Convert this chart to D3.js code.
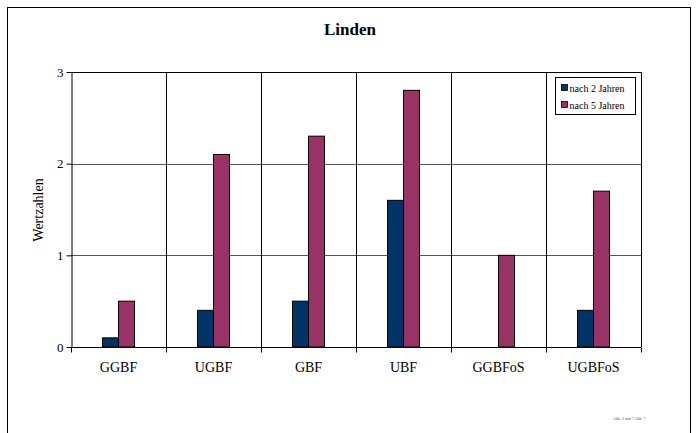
<!DOCTYPE html>
<html>
<head>
<meta charset="utf-8">
<script src="https://cdn.jsdelivr.net/npm/d3@7"></script>
<style>
  body { margin: 0; background: #fff; }
  svg text { font-family: "Liberation Serif", "Times New Roman", serif; }
</style>
</head>
<body>
<div id="chart"></div>
<script>
// data
const categories = ["GGBF", "UGBF", "GBF", "UBF", "GGBFoS", "UGBFoS"];
const seriesNames = ["nach 2 Jahren", "nach 5 Jahren"];
const after2 = [0.1, 0.4, 0.5, 1.6, 0, 0.4];
const after5 = [0.5, 2.1, 2.3, 2.8, 1.0, 1.7];
const yTicks = [0, 1, 2, 3];
const colors = ["#003366", "#993366"];

const W = 697, H = 433;
const margin = { top: 72, right: 56, bottom: 86, left: 71 },
      width = W - margin.left - margin.right,
      height = H - margin.top - margin.bottom;

const svg = d3.select("#chart").append("svg")
    .attr("width", W)
    .attr("height", H);

// outer frame
svg.append("rect")
    .attr("x", 7.5).attr("y", 7.5)
    .attr("width", 683).attr("height", 440)
    .attr("fill", "none").attr("stroke", "#000").attr("stroke-width", 1);

svg.append("text")
    .attr("x", 350).attr("y", 35)
    .attr("text-anchor", "middle")
    .style("font-size", "17px").style("font-weight", "bold")
    .text("Linden");

const g = svg.append("g")
    .attr("transform", `translate(${margin.left}, ${margin.top})`);

const x = d3.scaleBand()
    .domain(categories)
    .range([0, width]);

const xs = d3.scaleBand()
    .domain(seriesNames)
    .range([x.bandwidth() / 2 - 16, x.bandwidth() / 2 + 16]);

const y = d3.scaleLinear()
    .domain([0, 3])
    .range([height, 0]);

// gridlines
g.selectAll(".grid")
    .data(yTicks.filter(d => d > 0 && d < 3))
    .join("line")
    .attr("x1", 0).attr("x2", width)
    .attr("y1", d => Math.round(y(d)) + 0.5).attr("y2", d => Math.round(y(d)) + 0.5)
    .attr("stroke", "#555").attr("stroke-width", 1);

// category separators
g.selectAll(".sep")
    .data(categories.slice(1))
    .join("line")
    .attr("x1", d => Math.round(x(d)) + 0.5).attr("x2", d => Math.round(x(d)) + 0.5)
    .attr("y1", 0).attr("y2", height)
    .attr("stroke", "#000");

// plot frame (top and right)
g.append("path")
    .attr("d", `M0.5,0.5H${width + 0.5}V${height}`)
    .attr("fill", "none").attr("stroke", "#000");

// bars
const rows = categories.map((c, i) => ({ cat: c, vals: [after2[i], after5[i]] }));
const groups = g.selectAll(".cat")
    .data(rows)
    .join("g")
    .attr("transform", d => `translate(${x(d.cat)}, 0)`);

groups.selectAll("rect")
    .data(d => d.vals.map((v, j) => ({ v, j })).filter(e => e.v > 0))
    .join("rect")
    .attr("x", d => xs(seriesNames[d.j]))
    .attr("width", xs.bandwidth())
    .attr("y", d => y(d.v))
    .attr("height", d => height - y(d.v))
    .attr("fill", d => colors[d.j])
    .attr("stroke", "#000").attr("stroke-width", 1);

// y axis
const yAxis = g.append("g")
    .attr("transform", "translate(0.5, 0)")
    .call(d3.axisLeft(y).tickValues(yTicks).tickFormat(d3.format("d")).tickSize(5).tickSizeOuter(0));
yAxis.select(".domain").attr("stroke", "#000");
yAxis.selectAll("text").style("font-size", "13px").attr("fill", "#000");

// x axis
const xAxisGroup = g.append("g")
    .attr("transform", `translate(0, ${height + 0.5})`)
    .call(d3.axisBottom(x).tickSize(0).tickSizeOuter(0));
xAxisGroup.select(".domain").attr("d", `M0,0H${width}`).attr("stroke", "#000");
xAxisGroup.selectAll("text")
    .attr("dy", "1.5em")
    .style("font-size", "14px").attr("fill", "#000");

// x boundary ticks
xAxisGroup.selectAll(".btick")
    .data(d3.range(categories.length + 1))
    .join("line")
    .attr("x1", i => Math.round(i * x.bandwidth()) + 0.5)
    .attr("x2", i => Math.round(i * x.bandwidth()) + 0.5)
    .attr("y1", 0).attr("y2", 5)
    .attr("stroke", "#000");

// y label
svg.append("text")
    .attr("transform", `translate(43, 210) rotate(-90)`)
    .attr("text-anchor", "middle")
    .style("font-size", "14px")
    .text("Wertzahlen");

// legend
const legend = svg.append("g").attr("transform", "translate(555.5, 77.5)");
legend.append("rect")
    .attr("width", 80).attr("height", 37)
    .attr("fill", "#fff").attr("stroke", "#000");
seriesNames.forEach((s, i) => {
    legend.append("rect")
        .attr("x", 6).attr("y", 7 + i * 17)
        .attr("width", 6).attr("height", 6)
        .attr("fill", colors[i]).attr("stroke", "#000").attr("stroke-width", 0.8);
    legend.append("text")
        .attr("x", 14).attr("y", 14 + i * 17)
        .style("font-size", "10px")
        .text(s);
});

// footnote
svg.append("text")
    .attr("x", 613).attr("y", 420)
    .style("font-size", "4px").attr("fill", "#555")
    .text("Abb. 3 und 7 Abb. 7");
</script>
</body>
</html>
